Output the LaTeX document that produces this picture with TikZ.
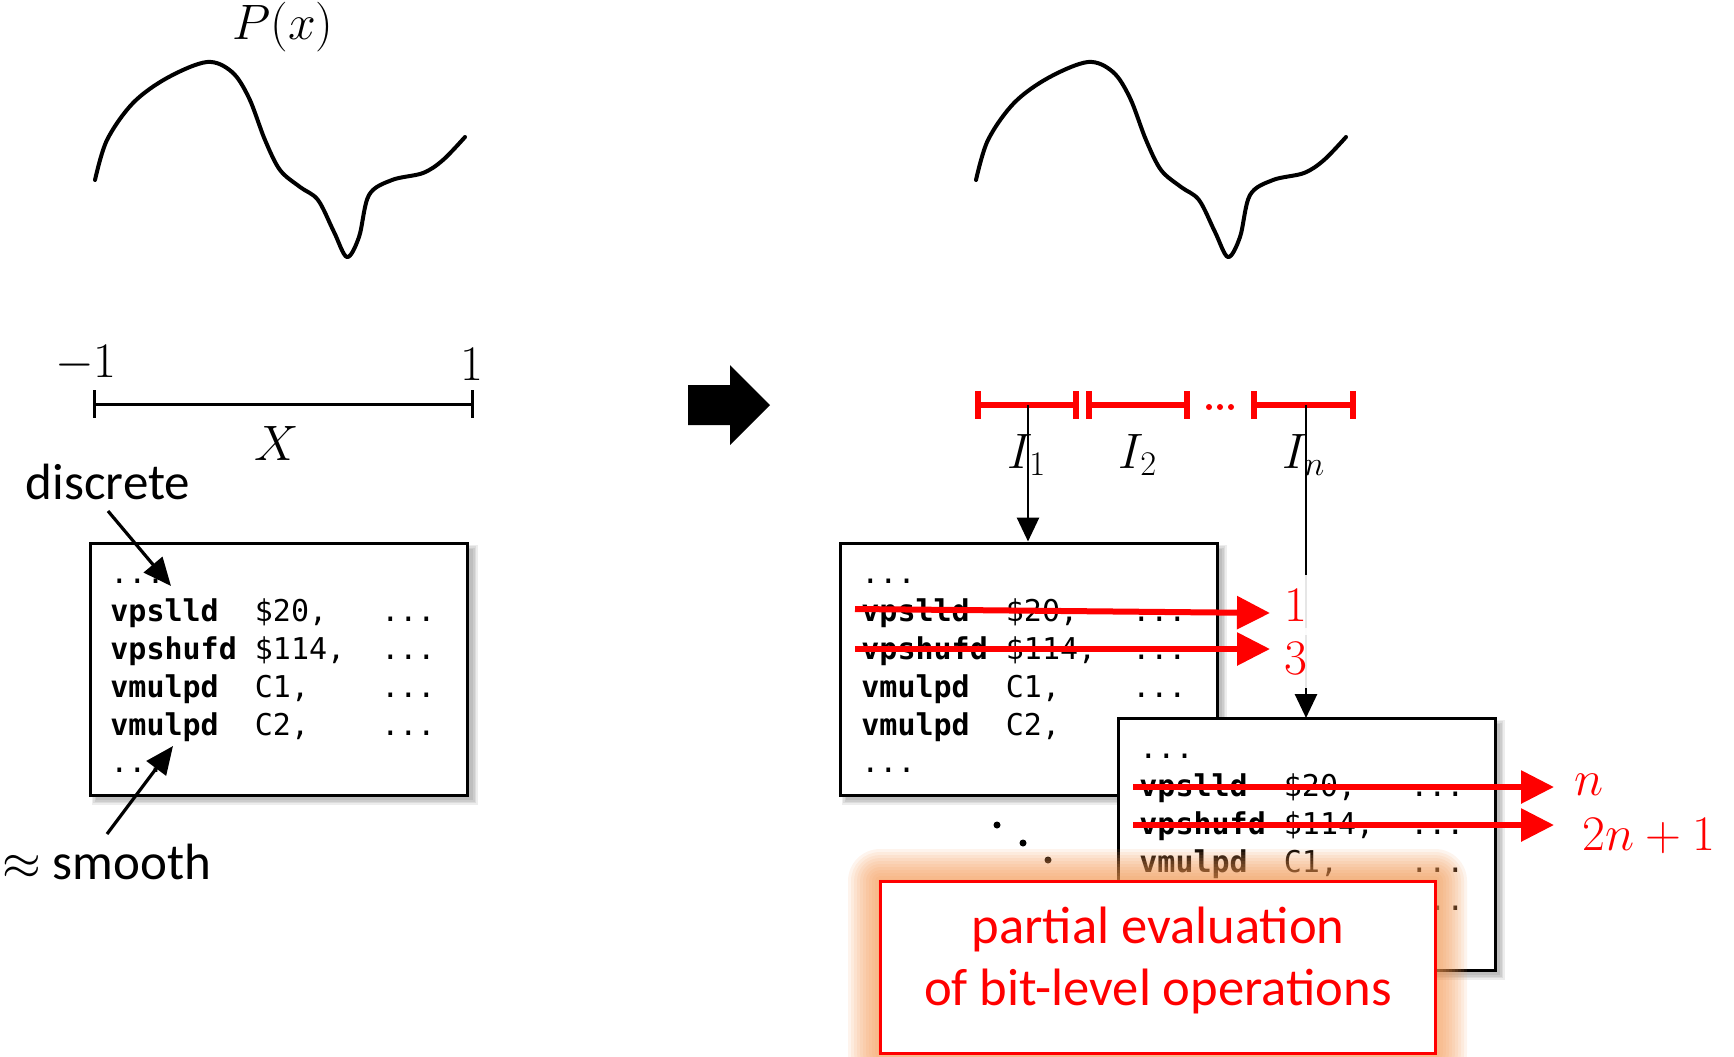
\documentclass[tikz,border=0pt]{standalone}
\usepackage{fontspec}
\setmainfont{Carlito}
\newfontfamily\codefont{DejaVu Sans Mono}
\usetikzlibrary{arrows.meta,calc}
\definecolor{glowc}{RGB}{244,150,80}
\definecolor{pred}{RGB}{255,0,0}
\newcommand\codelines[3]{%
  \node[code] (#1l1) at (#2,#3) {...};
  \node[code] (#1l2) at (#2,#3+38.5) {{\bfseries vpslld}~~\$20,~~~...};
  \node[code] (#1l3) at (#2,#3+76) {{\bfseries vpshufd}~\$114,~~...};
  \node[code] (#1l4) at (#2,#3+114.5) {{\bfseries vmulpd}~~C1,~~~~...};
  \node[code] (#1l5) at (#2,#3+152) {{\bfseries vmulpd}~~C2,~~~~...};
  \node[code] (#1l6) at (#2,#3+189) {...};
}
\newcommand\boxshadow[4]{%
  \foreach \e in {0,1.5,3,4.5} {\fill[black,opacity=0.07] (#1+6-\e,#2+6-\e) rectangle (#3+5+\e,#4+5+\e);}
}
\begin{document}
\begin{tikzpicture}[x=0.5pt,y=-0.5pt,
  lbl/.style={font=\fontsize{25.5}{30}\selectfont, inner sep=0},
  curve/.style={line width=2pt, line join=round, line cap=round},
  axis/.style={line width=1.5pt},
  ivl/.style={line width=2.6pt, draw=pred},
  codebox/.style={draw, line width=1.5pt, fill=white, minimum width=188.5pt, minimum height=126pt, inner sep=0},
  code/.style={font=\codefont\fontsize{15}{18}\selectfont, anchor=base west, inner sep=0},
  annarrow/.style={line width=1.6pt, -{Triangle[length=14pt,width=12pt]}},
  varrow/.style={line width=1.4pt, -{Triangle[length=12pt,width=11pt]}},
  redarrow/.style={line width=3pt, draw=pred, -{Triangle[length=16.5pt,width=16pt]}},
  redlbl/.style={lbl, text=pred},
]
\useasboundingbox (0,0) rectangle (1734,1056);

% curves
\foreach \dx in {0,881} {
  \draw[curve, shift={(\dx,0)}] plot[smooth, tension=0.55] coordinates {
    (95,180) (107,140) (133,103) (167,78) (207,62) (232,72) (249,98) (265,140)
    (280,170) (300,187) (318,200) (334,232) (347,257) (359,237) (369,195)
    (392,180) (423,173) (443,160) (465,137)};
}
\node[lbl] (px) at (283,27) {$P(x)$};

% left axis
\draw[axis] (94,390) -- (94,418) (94,404) -- (472,404) (472,390) -- (472,418);
\node[lbl] (m1) at (86,364) {$-1$};
\node[lbl] (p1) at (472,364) {$1$};
\node[lbl] (X) at (277,443) {$X$};

% right intervals
\draw[ivl] (978,391) -- (978,419) (978,405) -- (1076,405) (1076,391) -- (1076,419);
\draw[ivl] (1089,391) -- (1089,419) (1089,405) -- (1187,405) (1187,391) -- (1187,419);
\draw[ivl] (1254,391) -- (1254,419) (1254,405) -- (1353,405) (1353,391) -- (1353,419);
\foreach \xx in {1209,1220,1231} \fill[pred] (\xx,407) circle (3);
\node[lbl] (I1) at (1027,455) {$I_1$};
\node[lbl] (I2) at (1138,455) {$I_2$};
\node[lbl] (In) at (1304,455) {$I_n$};

% big arrow
\fill (688,385) -- (730,385) -- (730,365) -- (770,405) -- (730,445) -- (730,425) -- (688,425) -- cycle;

% left box
\boxshadow{90}{543}{468}{795}
\node[codebox] (box0) at (279,669) {};
\codelines{a}{110}{583}
\node[lbl] (discrete) at (108,482) {discrete};
\node[lbl] (smooth) at (107,862) {$\approx$ smooth};
\coordinate (dA) at (108,511);
\coordinate (dB) at (171,586);
\draw[annarrow] (dA) -- (dB);
\coordinate (sA) at (107,834);
\coordinate (sB) at (173,746);
\draw[annarrow] (sA) -- (sB);

% right boxes
\coordinate (i1) at (1028,405);
\coordinate (iN) at (1306,405);
\boxshadow{840}{543}{1217}{795}
\node[codebox] (box1) at (1028.5,669) {};
\draw[varrow] (i1) -- (i1 |- box1.north);
\draw[varrow] (iN) -- (iN |- 0,718);
\codelines{b}{861}{583}
\coordinate (r1s) at (855,609);
\coordinate (r1e) at (1270,613);
\coordinate (r2s) at (855,649);
\coordinate (r2e) at (1270,649);
\draw[redarrow] (r1s) -- (r1e);
\draw[redarrow] (r2s) -- (r2e);
\node[redlbl, fill=white, fill opacity=0.9, text opacity=1, minimum height=30pt] (one) at (1296,605) {$1$};
\node[redlbl, fill=white, fill opacity=0.9, text opacity=1, minimum height=30pt] (three) at (1296,658) {$3$};

\boxshadow{1118}{718}{1495}{970}
\node[codebox] (box2) at (1306.5,844) {};
\codelines{c}{1139}{758}
\coordinate (r3s) at (1133,787);
\coordinate (r3e) at (1554,787);
\coordinate (r4s) at (1133,825);
\coordinate (r4e) at (1554,825);
\draw[redarrow] (r3s) -- (r3e);
\draw[redarrow] (r4s) -- (r4e);
\node[redlbl] (nl) at (1589,785) {$n$};
\node[redlbl] (tnl) at (1649,836) {$2n+1$};

% diagonal dots
\foreach \p in {(997,825),(1023,843),(1048,860)} \fill \p circle (3.5);

% glow + red box
\foreach \r in {32,29,...,2} {
  \pgfmathsetmacro\rr{\r*0.5}
  \fill[glowc, opacity=0.1, rounded corners=\rr pt] (880-\r,881-\r) rectangle (1435+\r,1053+\r);
}
\node[draw=pred, line width=1.5pt, fill=white, minimum width=277.5pt, minimum height=86pt] (pebox) at (1157.5,967) {};
\node[lbl, text=pred, font=\fontsize{26.3}{30}\selectfont] (pe1) at (1158,929) {partial evaluation};
\node[lbl, text=pred, font=\fontsize{26.3}{30}\selectfont] (pe2) at (1158,991) {of bit-level operations};
\end{tikzpicture}
\end{document}
